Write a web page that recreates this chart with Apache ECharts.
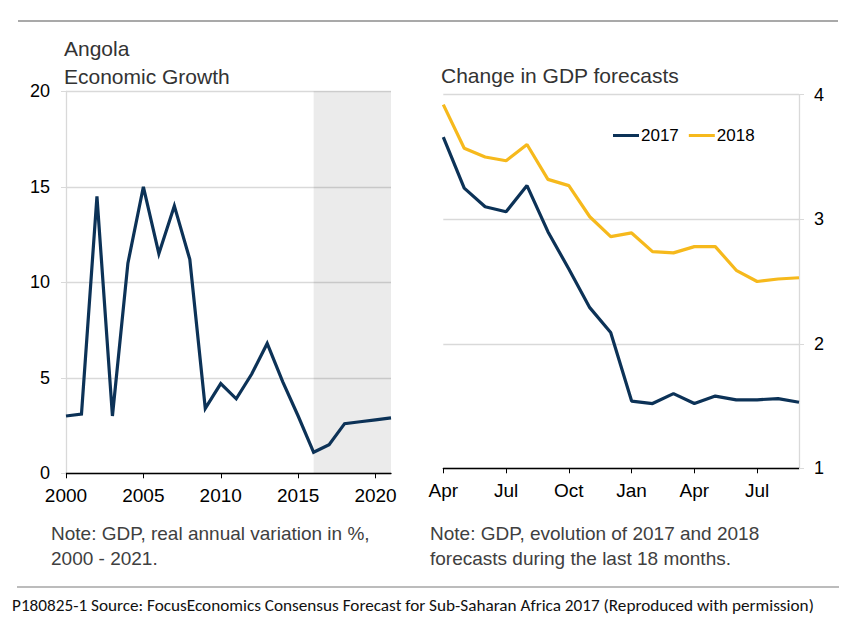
<!DOCTYPE html>
<html>
<head>
<meta charset="utf-8">
<script src="https://cdn.jsdelivr.net/npm/echarts@6/dist/echarts.min.js"></script>
<style>
  html, body { margin: 0; padding: 0; background: #fff; }
  #chart { width: 857px; height: 621px; }
</style>
</head>
<body>
<div id="chart"></div>
<script>
// ---- Data ----
const growthYears = [2000, 2001, 2002, 2003, 2004, 2005, 2006, 2007, 2008, 2009, 2010,
                     2011, 2012, 2013, 2014, 2015, 2016, 2017, 2018, 2019, 2020, 2021];
const growthValues = [3.0, 3.1, 14.5, 3.0, 11.0, 15.0, 11.5, 14.0, 11.2, 3.4, 4.7,
                      3.9, 5.2, 6.8, 4.8, 3.0, 1.1, 1.5, 2.6, 2.7, 2.8, 2.9];
const forecastStart = 2016;
const forecastEnd = 2021;

const months = ['Apr', 'May', 'Jun', 'Jul', 'Aug', 'Sep', 'Oct', 'Nov', 'Dec',
                'Jan', 'Feb', 'Mar', 'Apr', 'May', 'Jun', 'Jul', 'Aug', 'Sep'];
const forecast2017 = [3.66, 3.25, 3.10, 3.06, 3.27, 2.90, 2.60, 2.29, 2.09,
                      1.54, 1.52, 1.60, 1.52, 1.58, 1.55, 1.55, 1.56, 1.53];
const forecast2018 = [3.92, 3.57, 3.50, 3.47, 3.60, 3.32, 3.27, 3.02, 2.86,
                      2.89, 2.74, 2.73, 2.78, 2.78, 2.59, 2.50, 2.52, 2.53];

const NAVY = '#0c3257';
const GOLD = '#f6b91c';
const GRID = '#d9d9d9';
const FONT = '"Liberation Sans", Arial, sans-serif';

const chart = echarts.init(document.getElementById('chart'), null, { renderer: 'svg' });

function txt(x, y, text, size, color, family) {
  return {
    type: 'text', x: x, y: y, silent: true,
    style: {
      text: text, fill: color, fontSize: size, fontFamily: family || FONT,
      textAlign: 'left', textVerticalAlign: 'middle', verticalAlign: 'middle'
    }
  };
}

const option = {
  backgroundColor: '#fff',
  animation: false,
  textStyle: { fontFamily: FONT },
  grid: [
    { left: 66, top: 91.3, width: 325, height: 382 },
    { left: 443.3, top: 94.7, width: 355.7, height: 373.6 }
  ],
  legend: {
    data: ['2017', '2018'],
    left: 613, top: 127, padding: 0,
    icon: 'rect', itemWidth: 26, itemHeight: 3, itemGap: 10,
    textStyle: { fontSize: 17, color: '#000', fontFamily: FONT, padding: [0, 0, 0, -3] }
  },
  xAxis: [
    {
      gridIndex: 0, type: 'value', min: 2000, max: 2021, interval: 5,
      axisLine: { show: true, lineStyle: { color: '#000', width: 1.3 } },
      axisTick: { show: true, length: 5, lineStyle: { color: '#000' } },
      axisLabel: { fontSize: 19, color: '#000', margin: 13, fontFamily: FONT,
                   showMaxLabel: false, formatter: v => String(v) },
      splitLine: { show: false }
    },
    {
      gridIndex: 1, type: 'category', data: months, boundaryGap: false,
      axisLine: { show: true, lineStyle: { color: '#000', width: 1.3 } },
      axisTick: { show: true, length: 5, interval: 2, lineStyle: { color: '#000' } },
      axisLabel: { fontSize: 19, color: '#000', margin: 13, interval: 2, fontFamily: FONT },
      splitLine: { show: false }
    }
  ],
  yAxis: [
    {
      gridIndex: 0, type: 'value', min: 0, max: 20, interval: 5,
      axisLine: { show: true, lineStyle: { color: GRID, width: 1.3 } },
      axisTick: { show: true, length: 5, lineStyle: { color: GRID } },
      axisLabel: { fontSize: 18, color: '#000', margin: 16, fontFamily: FONT },
      splitLine: { show: true, lineStyle: { color: GRID, width: 1.3 } }
    },
    {
      gridIndex: 1, type: 'value', position: 'right', min: 1, max: 4, interval: 1,
      axisLine: { show: true, lineStyle: { color: GRID, width: 1.3 } },
      axisTick: { show: true, length: 5, lineStyle: { color: GRID } },
      axisLabel: { fontSize: 18, color: '#000', margin: 15, fontFamily: FONT,
                   showMinLabel: true },
      splitLine: { show: true, lineStyle: { color: GRID, width: 1.3 } }
    }
  ],
  series: [
    {
      name: 'Angola', type: 'line', xAxisIndex: 0, yAxisIndex: 0,
      data: growthYears.map((y, i) => [y, growthValues[i]]),
      showSymbol: false, symbol: 'none',
      lineStyle: { color: NAVY, width: 3.2, join: 'miter' },
      itemStyle: { color: NAVY },
      markArea: {
        silent: true,
        itemStyle: { color: 'rgba(0,0,0,0.08)' },
        data: [[{ xAxis: forecastStart }, { xAxis: forecastEnd }]]
      },
      z: 3
    },
    {
      name: '2017', type: 'line', xAxisIndex: 1, yAxisIndex: 1,
      data: forecast2017, showSymbol: false, symbol: 'none',
      lineStyle: { color: NAVY, width: 3.2 }, itemStyle: { color: NAVY }
    },
    {
      name: '2018', type: 'line', xAxisIndex: 1, yAxisIndex: 1,
      data: forecast2018, showSymbol: false, symbol: 'none',
      lineStyle: { color: GOLD, width: 3.2 }, itemStyle: { color: GOLD }
    }
  ],
  graphic: [
    { type: 'line', silent: true, shape: { x1: 18, y1: 21, x2: 838, y2: 21 },
      style: { stroke: '#8c8c8c', lineWidth: 1.3 } },
    { type: 'line', silent: true, shape: { x1: 17, y1: 587, x2: 839, y2: 587 },
      style: { stroke: '#a6a6a6', lineWidth: 1.6 } },
    txt(64, 48, 'Angola', 21, '#333'),
    txt(64, 76, 'Economic Growth', 21, '#333'),
    txt(441, 75, 'Change in GDP forecasts', 21, '#333'),
    txt(51, 533, 'Note: GDP, real annual variation in %,', 19, '#404040'),
    txt(51, 558, '2000 - 2021.', 19, '#404040'),
    txt(430, 533, 'Note: GDP, evolution of 2017 and 2018', 19, '#404040'),
    txt(430, 558, 'forecasts during the last 18 months.', 19, '#404040'),
    txt(12, 605, 'P180825-1 Source: FocusEconomics Consensus Forecast for Sub-Saharan Africa 2017 (Reproduced with permission)',
        17.2, '#111', 'Carlito, Calibri, "Open Sans", sans-serif')
  ]
};

chart.setOption(option);
</script>
</body>
</html>
